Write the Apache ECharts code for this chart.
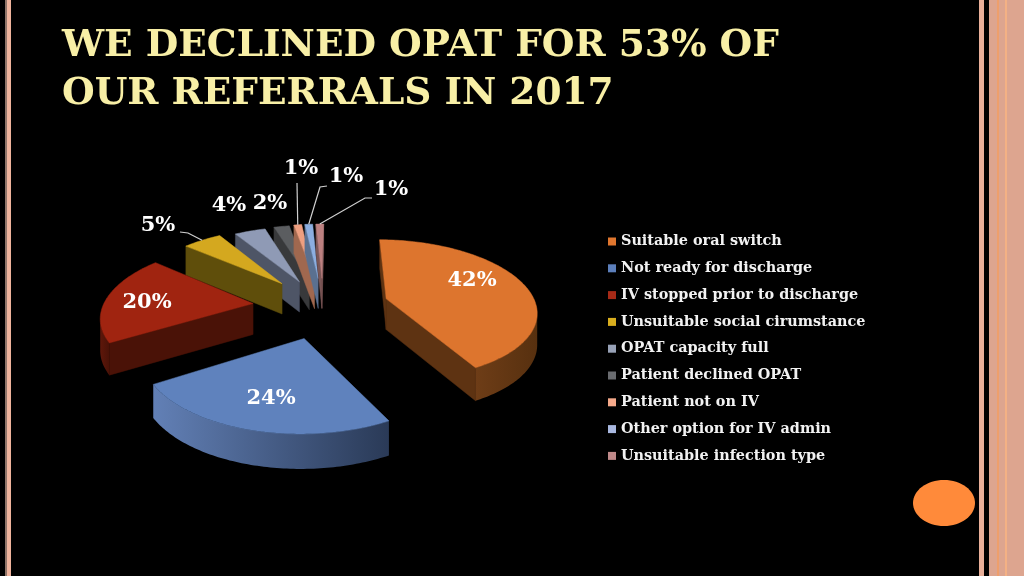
<!DOCTYPE html>
<html><head><meta charset="utf-8">
<style>html,body{margin:0;padding:0;background:#000}#c{width:1024px;height:576px}</style>
<script src="https://cdn.jsdelivr.net/npm/echarts@6/dist/echarts.min.js"></script>
</head><body><div id="c"></div>
<script>
// ---- data ----
const categories = ['Suitable oral switch','Not ready for discharge','IV stopped prior to discharge','Unsuitable social cirumstance','OPAT capacity full','Patient declined OPAT','Patient not on IV','Other option for IV admin','Unsuitable infection type'];
const values = [42,24,20,5,4,2,1,1,1];
const titleLines = ['WE DECLINED OPAT FOR 53% OF','OUR REFERRALS IN 2017'];
// ---- styling ----
const legendColors = ['#E0762E','#5C7FBB','#A62A17','#D9AE1E','#98A2B7','#6A6C70','#F5A98A','#A9B8E0','#C08A8A'];
const topColors    = ['#DD752E','#5F82BD','#A02410','#D4A81F','#8F9AB5','#5B5D60','#EE9F80','#8CAEE0','#BC8080'];
const faceColors   = ['#5E3312','#3A4F76','#4A1207','#5F4E0B','#4E5566','#38393B','#A0684F','#5A7090','#7A5656'];
const rimFrom      = ['#6E3D17','#6280B6','#5E170A','#5F4E0B','#4E5566','#38393B','#A0684F','#5A7090','#7A5656'];
const rimTo        = ['#57300F','#2A3A57','#4A1207','#5F4E0B','#4E5566','#38393B','#A0684F','#5A7090','#7A5656'];
const explode      = [0.44,0.45,0.47,0.44,0.40,0.41,0.42,0.42,0.42];
const labelAnchor  = [[472,281],[271,399],[147,303],[158,226],[229,206],[270,204],[301,169],[346,177],[391,190]];
const labelLeader  = [null,null,null,[[180,232],[188,233]],null,null,[[297,183]],[[327,186],[320,187]],[[372,198],[365,198]]];
// projection of the tilted pie
const CX=323, CY=306, A=150, B=70, K=0.15, DEPTH=31, START=0.75;
function proj(u,v){const s=1/(1-K*v);return {x:CX+A*u*s,y:CY+B*v*s,s};}
const total = values.reduce((a,b)=>a+b,0);
const D2R=Math.PI/180;
const starts=[];let acc=START;values.forEach(v=>{starts.push(acc);acc+=v/total*360;});

function renderSlice(i){
  return function(params,api){
    const val=api.value(0);
    const t0=starts[i], t1=t0+val/total*360, m=(t0+t1)/2;
    const eu=explode[i]*Math.sin(m*D2R), ev=-explode[i]*Math.cos(m*D2R);
    const pt=t=>proj(eu+Math.sin(t*D2R),ev-Math.cos(t*D2R));
    const down=p=>[p.x,p.y+DEPTH*Math.sqrt(p.s)];
    const apex=proj(eu,ev), steps=Math.max(6,Math.round(t1-t0));
    const arc=[];for(let k=0;k<=steps;k++)arc.push(pt(t0+(t1-t0)*k/steps));
    const q=arc[Math.floor(steps/2)];
    const kids=[];
    // radial faces
    [arc[0],arc[steps]].forEach(c=>{
      const dx=c.x-apex.x,dy=c.y-apex.y;
      if(Math.abs(dx)<1e-6)return;
      const lineY=apex.y+dy/dx*(q.x-apex.x);
      if(q.y<lineY){
        kids.push({type:'polygon',shape:{points:[[apex.x,apex.y],[c.x,c.y],down(c),down(apex)]},
          style:{fill:faceColors[i],stroke:faceColors[i],lineWidth:0.5}});
      }
    });
    // rim
    const front=[];
    for(let k=0;k<=steps;k++){
      const near=(k<steps&&arc[k+1].x<arc[k].x)||(k>0&&arc[k].x<arc[k-1].x);
      if(near)front.push(arc[k]);
    }
    if(front.length>1){
      const xs=front.map(p=>p.x),x0=Math.min(...xs),x1=Math.max(...xs);
      const pts=front.map(p=>[p.x,p.y]).concat(front.slice().reverse().map(down));
      kids.push({type:'polygon',shape:{points:pts},style:{
        fill:new echarts.graphic.LinearGradient(x0,0,x1,0,[{offset:0,color:rimFrom[i]},{offset:1,color:rimTo[i]}],true)}});
    }
    // top
    const top=[[apex.x,apex.y]].concat(arc.map(p=>[p.x,p.y]));
    kids.push({type:'polygon',shape:{points:top},style:{fill:topColors[i],stroke:topColors[i],lineWidth:0.5}});
    // leader
    if(labelLeader[i]){
      const tip=pt(m);
      const pts=labelLeader[i].concat([[tip.x,tip.y]]);
      kids.push({type:'polyline',shape:{points:pts},style:{fill:null,stroke:'#D0D0D0',lineWidth:1.2}});
    }
    // label
    kids.push({type:'text',x:labelAnchor[i][0],y:labelAnchor[i][1],z2:50,style:{text:val+'%',fill:'#FFFFFF',
      font:'bold 21px "DejaVu Serif"',align:'center',verticalAlign:'middle'}});
    return {type:'group',children:kids};
  };
}
const series=categories.map((name,i)=>({
  name,type:'custom',coordinateSystem:'none',renderItem:renderSlice(i),data:[[values[i]]],
  itemStyle:{color:legendColors[i]},
  z:2+Math.round(10*(1-Math.cos((starts[i]+values[i]/total*180)*D2R))),silent:true,animation:false
}));
const bar=(x,w,fill)=>({type:'rect',shape:{x,y:0,width:w,height:576},style:{fill},silent:true});
const chart=echarts.init(document.getElementById('c'),null,{renderer:'canvas'});
chart.setOption({
  backgroundColor:'#000',animation:false,
  title:{text:titleLines.join('\n'),left:57,top:18,textStyle:{color:'#F8EFA6',fontFamily:'"DejaVu Serif"',fontWeight:'bold',fontSize:37.5,lineHeight:47.5}},
  legend:{data:categories,orient:'vertical',left:603,top:228,itemWidth:8,itemHeight:8,itemGap:9.8,icon:'rect',selectedMode:false,
    textStyle:{color:'#F2F2F2',fontFamily:'"DejaVu Serif"',fontWeight:'bold',fontSize:14.4,lineHeight:17,padding:[0,0,0,0]}},
  graphic:[
    bar(5,2,'#8F7468'),bar(7,4,'#EFB39C'),
    bar(979,5,'#E9B09A'),bar(989,35,'#DDA58F'),bar(997,2,'#EE9F6C'),bar(1005,2,'#F4B184'),
    {type:'ellipse',shape:{cx:944,cy:503,rx:31,ry:23},style:{fill:'#FF8A3A'},silent:true}
  ],
  series
});
</script></body></html>
